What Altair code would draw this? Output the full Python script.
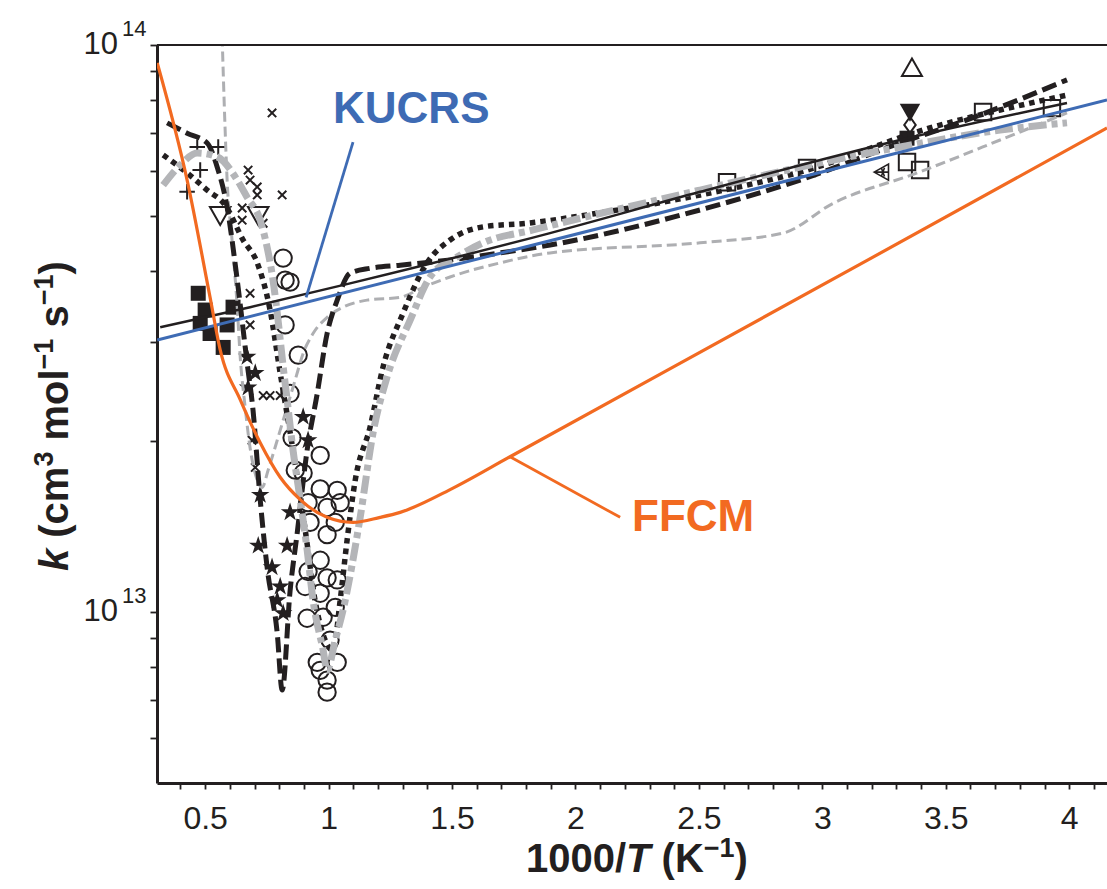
import altair as alt
import pandas as pd

# ---------------- data (k in units of 1e13 cm3 mol-1 s-1) ----------------
kucrs_x = [0.306, 4.153]
kucrs_k = [3.02, 8.00]

ffcm_x = [0.306, 0.427, 0.520, 0.561, 0.642, 0.723, 0.804, 0.885, 0.994, 1.099,
          1.209, 1.290, 1.504, 1.735, 3.185, 4.153]
ffcm_k = [9.30, 5.78, 3.59, 2.90, 2.37, 1.99, 1.73, 1.58, 1.47, 1.44,
          1.47, 1.50, 1.655, 1.88, 4.18, 7.14]

solid_x = [0.318, 0.682, 1.087, 1.897, 2.505, 3.315, 3.991]
solid_k = [3.18, 3.45, 3.80, 4.66, 5.51, 6.80, 7.90]

dash_x = [0.346, 0.427, 0.508, 0.549, 0.589, 0.630, 0.670, 0.694, 0.723, 0.751,
          0.792, 0.812, 0.844, 0.873, 0.913, 0.954, 0.994, 1.035, 1.087, 1.168,
          1.290, 1.492, 1.695, 1.897, 2.505, 2.910, 3.315, 3.586, 3.991]
dash_k = [7.29, 6.99, 6.72, 6.09, 5.18, 3.85, 2.75, 2.27, 1.58, 1.20,
          0.918, 0.729, 1.09, 1.38, 1.93, 2.43, 3.10, 3.55, 3.96, 4.04,
          4.09, 4.18, 4.30, 4.44, 5.12, 5.78, 6.72, 7.38, 8.68]

dot_x = [0.330, 0.427, 0.508, 0.581, 0.654, 0.711, 0.763, 0.804, 0.856, 0.905,
         0.945, 0.986, 1.018, 1.047, 1.075, 1.108, 1.168, 1.221, 1.302, 1.399,
         1.492, 1.626, 1.804, 2.100, 2.505, 2.910, 3.449, 3.720, 3.991]
dot_k = [6.40, 5.95, 5.55, 5.22, 4.53, 4.13, 3.41, 2.64, 1.93, 1.40,
         1.05, 0.893, 0.857, 1.05, 1.34, 1.71, 2.12, 2.71, 3.37, 4.13,
         4.53, 4.78, 4.85, 5.06, 5.44, 5.97, 7.17, 7.68, 8.16]

gdd_x = [0.330, 0.399, 0.468, 0.549, 0.630, 0.670, 0.723, 0.751, 0.775, 0.792,
         0.816, 0.832, 0.856, 0.885, 0.913, 0.937, 0.978, 0.994, 1.027, 1.059,
         1.128, 1.180, 1.237, 1.330, 1.411, 1.521, 1.626, 1.828, 2.505, 2.910,
         3.315, 3.720, 3.991]
gdd_k = [5.66, 6.14, 6.45, 6.35, 5.78, 5.39, 4.91, 4.40, 3.85, 3.37,
         2.71, 2.37, 1.93, 1.58, 1.29, 1.05, 0.857, 0.79, 0.893, 1.01,
         1.47, 2.07, 2.60, 3.27, 3.90, 4.23, 4.48, 4.72, 5.55, 6.09,
         6.61, 7.08, 7.29]

gtd_x = [0.567, 0.581, 0.589, 0.609, 0.630, 0.642, 0.662, 0.682, 0.711, 0.731,
         0.755, 0.792, 0.832, 0.865, 0.897, 0.937, 0.994, 1.059, 1.156, 1.290,
         1.383, 1.492, 1.695, 1.897, 2.505, 2.841, 3.044, 3.384, 3.720, 3.991]
gtd_k = [11.0, 7.08, 5.78, 4.53, 3.45, 2.82, 2.30, 1.95, 1.71, 1.66,
         1.78, 2.01, 2.30, 2.57, 2.86, 3.10, 3.31, 3.45, 3.55, 3.59,
         3.74, 3.90, 4.13, 4.30, 4.48, 4.66, 5.26, 5.95, 6.80, 7.59]

sq_x = [0.472, 0.500, 0.480, 0.520, 0.573, 0.613, 0.589, 3.343]
sq_k = [3.65, 3.41, 3.23, 3.10, 2.93, 3.45, 3.21, 6.85]

star_x = [0.670, 0.703, 0.674, 0.897, 0.917, 0.723, 0.844, 0.715, 0.832, 0.771,
          0.804, 0.792, 0.816]
star_k = [2.82, 2.64, 2.49, 2.21, 2.01, 1.61, 1.50, 1.31, 1.31, 1.20,
          1.11, 1.05, 0.996]

circ_x = [0.816, 0.824, 0.844, 0.824, 0.877, 0.844, 0.852, 0.966, 0.865, 0.897,
          0.966, 1.035, 1.047, 0.917, 0.994, 1.027, 0.994, 0.925, 0.966, 0.917,
          0.994, 1.035, 0.905, 0.966, 1.027, 0.913, 0.978, 1.006, 0.954, 1.035,
          0.966, 0.994, 0.994]
circ_k = [4.21, 3.85, 3.82, 3.21, 2.84, 2.43, 2.03, 1.89, 1.78, 1.76,
          1.65, 1.64, 1.56, 1.56, 1.53, 1.44, 1.37, 1.44, 1.235, 1.18,
          1.15, 1.14, 1.11, 1.08, 1.02, 0.976, 0.98, 0.893, 0.816, 0.816,
          0.79, 0.759, 0.723]

xs_x = [0.771, 0.674, 0.682, 0.711, 0.711, 0.812, 0.650, 0.650, 0.735, 0.682,
        0.682, 0.735, 0.763, 0.804, 0.690, 0.703]
xs_k = [7.59, 6.02, 5.78, 5.62, 5.44, 5.44, 5.16, 4.91, 4.85, 3.65,
        3.21, 2.41, 2.41, 2.41, 2.01, 1.80]

plus_x = [0.468, 0.553, 0.480, 0.427]
plus_k = [6.61, 6.61, 6.02, 5.51]

dtri_x = [0.561, 0.715]
dtri_k = [5.01, 5.01]

utri_x = [3.363]
utri_k = [9.11]
fdtri_x = [3.355]
fdtri_k = [7.62]
diam_x = [3.355]
diam_k = [7.23]
osq_x = [3.343, 3.396, 2.614, 2.938, 3.651, 3.930]
osq_k = [6.22, 6.02, 5.73, 6.07, 7.62, 7.74]
ltri_x = [3.242]
ltri_k = [5.97]

kucrs_lead_x = [0.909, 1.099]
kucrs_lead_k = [3.59, 6.74]
ffcm_lead_x = [1.735, 2.181]
ffcm_lead_k = [1.88, 1.47]

labels_txt = ["KUCRS", "FFCM"]
labels_x = [1.018, 2.229]
labels_k = [7.68, 1.465]

x_tick_values = [round(0.4 + 0.1 * i, 1) for i in range(38)]       # 0.4 ... 4.1
y_tick_values = [6e12, 7e12, 8e12, 9e12, 1e13, 2e13, 3e13, 4e13, 5e13,
                 6e13, 7e13, 8e13, 9e13, 1e14]
y_tick_vals = [1e13, 1e14]
y_tick_sup = ["13", "14"]

# ---------------- styling ----------------
W, H = 950, 738
X0, X1 = 0.305, 4.153
Y0, Y1 = 5e12, 1e14
FONT = "Liberation Sans"
BLACK = "#231F20"
BLUE = "#3E6BB4"
ORANGE = "#F26A21"
GREY_THIN = "#AEAFB2"
GREY_THICK = "#B4B5B8"

xscale = alt.Scale(domain=[X0, X1], nice=False, zero=False)
yscale = alt.Scale(type="log", domain=[Y0, Y1], nice=False)

X_MINOR = "abs(datum.value*2 - round(datum.value*2)) > 0.001"

xaxis = alt.Axis(
    values=x_tick_values, format="~g",
    labelExpr=f"{X_MINOR} ? '' : datum.label",
    ticks=True, tickSize=6, tickWidth=1.8, tickColor=BLACK,
    grid=False, title=None, labelFontSize=32, labelFont=FONT, labelColor=BLACK,
    labelPadding=14, labelOverlap=False, labelFlush=False,
    domainWidth=3, domainColor=BLACK)
yaxis = alt.Axis(
    values=y_tick_values, labels=False,
    ticks=True, tickSize=7, tickWidth=1.8, tickColor=BLACK,
    grid=False, title=None, domainWidth=3, domainColor=BLACK)


def X(f="x"):
    return alt.X(f"{f}:Q", scale=xscale, axis=xaxis)


def Y(f="k"):
    return alt.Y(f"{f}:Q", scale=yscale, axis=yaxis)


def frame(xs, ks):
    return pd.DataFrame({"x": xs, "k": [v * 1e13 for v in ks], "i": list(range(len(xs)))})


def line(xs, ks, color, width, dash=None, interp="monotone"):
    kw = dict(color=color, strokeWidth=width, clip=True, interpolate=interp, strokeCap="butt")
    if dash:
        kw["strokeDash"] = dash
    return alt.Chart(frame(xs, ks)).mark_line(**kw).encode(x=X(), y=Y(), order="i:Q")


def pts(xs, ks, shape, size, filled, sw=1.8, color=BLACK):
    return alt.Chart(frame(xs, ks)).mark_point(
        shape=shape, size=size, filled=filled, color=color, strokeWidth=sw,
        opacity=1, clip=True).encode(x=X(), y=Y())


STAR = ("M0,-1L0.2245,-0.309L0.951,-0.309L0.363,0.118L0.588,0.809L0,0.382"
        "L-0.588,0.809L-0.363,0.118L-0.951,-0.309L-0.2245,-0.309Z")
XMARK = "M-1,-1L1,1M-1,1L1,-1"
PLUS = "M-1,0L1,0M0,-1L0,1"
DTRI = "M-1,-0.8L1,-0.8L0,0.95Z"
UTRI = "M0,-0.95L1,0.8L-1,0.8Z"
DIAM = "M0,-1L0.72,0L0,1L-0.72,0Z"
LTRI = "M-1,0L0.8,-1L0.8,1ZM-1,0L0.8,0M-0.1,-0.55L0.3,0.55M-0.1,0.55L0.3,-0.55"

layers = []

# markers
layers.append(pts(circ_x, circ_k, "circle", 300, False, sw=2))
layers.append(pts(sq_x, sq_k, "square", 225, True))
layers.append(pts(star_x, star_k, STAR, 380, True))
layers.append(pts(xs_x, xs_k, XMARK, 70, False, sw=2))
layers.append(pts(plus_x, plus_k, PLUS, 240, False, sw=2))
layers.append(pts(dtri_x, dtri_k, DTRI, 420, False, sw=2))
layers.append(pts(utri_x, utri_k, UTRI, 400, False, sw=2))
layers.append(pts(fdtri_x, fdtri_k, DTRI, 420, True))
layers.append(pts(diam_x, diam_k, DIAM, 256, False, sw=2))
layers.append(pts(osq_x, osq_k, "square", 270, False, sw=2))
layers.append(pts(ltri_x, ltri_k, LTRI, 256, False, sw=1.6))

# model curves
layers.append(line(gtd_x, gtd_k, GREY_THIN, 3, [10, 5]))
layers.append(line(dash_x, dash_k, BLACK, 5, [15, 6]))
layers.append(line(dot_x, dot_k, BLACK, 5.5, [5.5, 5]))
layers.append(line(gdd_x, gdd_k, GREY_THICK, 7, [18, 5, 6, 5]))
layers.append(line(solid_x, solid_k, BLACK, 2.5))
layers.append(line(kucrs_x, kucrs_k, BLUE, 3, interp="linear"))
layers.append(line(ffcm_x, ffcm_k, ORANGE, 3.2))
layers.append(line(kucrs_lead_x, kucrs_lead_k, BLUE, 2.8, interp="linear"))
layers.append(line(ffcm_lead_x, ffcm_lead_k, ORANGE, 2.8, interp="linear"))

# annotation labels
lab_df = pd.DataFrame({"x": labels_x, "k": [v * 1e13 for v in labels_k], "t": labels_txt,
                       "c": [BLUE, ORANGE]})
layers.append(alt.Chart(lab_df).mark_text(
    align="left", baseline="middle", fontSize=44, fontWeight="bold", font=FONT
).encode(x=X(), y=Y(), text="t:N", color=alt.Color("c:N", scale=None)))

# top frame line
one = pd.DataFrame({"a": [0]})
layers.append(alt.Chart(one).mark_rule(color=BLACK, strokeWidth=2).encode(
    x=alt.value(0), x2=alt.value(W), y=alt.value(0)))

# y tick labels 10^13, 10^14
ytl = pd.DataFrame({"t": y_tick_vals, "b": ["10", "10"], "s": y_tick_sup})
layers.append(alt.Chart(ytl).mark_text(
    align="right", baseline="middle", fontSize=31, font=FONT, color=BLACK
).encode(y=Y("t"), x=alt.value(-39), text="b:N"))
layers.append(alt.Chart(ytl).mark_text(
    align="left", baseline="middle", fontSize=22, font=FONT, color=BLACK, dy=-16
).encode(y=Y("t"), x=alt.value(-35), text="s:N"))


def txt(s, x, y, size, italic=False, angle=None):
    kw = dict(text=s, align="left", baseline="alphabetic", fontSize=size,
              fontWeight="bold", font=FONT, color=BLACK)
    if italic:
        kw["fontStyle"] = "italic"
    if angle is not None:
        kw["angle"] = angle
    return alt.Chart(one).mark_text(**kw).encode(x=alt.value(x), y=alt.value(y))


# y title: k (cm^3 mol^-1 s^-1), rotated, pieces laid out upward
F, S = 40, 27
YB, YS = -89, -104
layers += [
    txt("k", YB, 526, F, italic=True, angle=270),
    txt("(cm", YB, 492.7, F, angle=270),
    txt("3", YS, 421.6, S, angle=270),
    txt("mol", YB, 395.5, F, angle=270),
    txt("\u22121", YS, 324.4, S, angle=270),
    txt("s", YB, 282.5, F, angle=270),
    txt("\u22121", YS, 260.3, S, angle=270),
    txt(")", YB, 229.5, F, angle=270),
]

# x title: 1000/T (K^-1)
XB = H + 89
layers += [
    txt("1000/", 369, XB, F),
    txt("T", 469.1, XB, F, italic=True),
    txt("(K", 504.6, XB, F),
    txt("\u22121", 546.8, XB - 15, S),
    txt(")", 577.6, XB, F),
]

chart = alt.layer(*layers).properties(
    width=W, height=H,
    padding={"left": 157, "top": 45, "right": 0, "bottom": 106},
    autosize=alt.AutoSizeParams(type="none"),
    background="white",
).configure_view(stroke=None)

chart.save("out.html", embed_options={"renderer": "svg", "actions": False})
